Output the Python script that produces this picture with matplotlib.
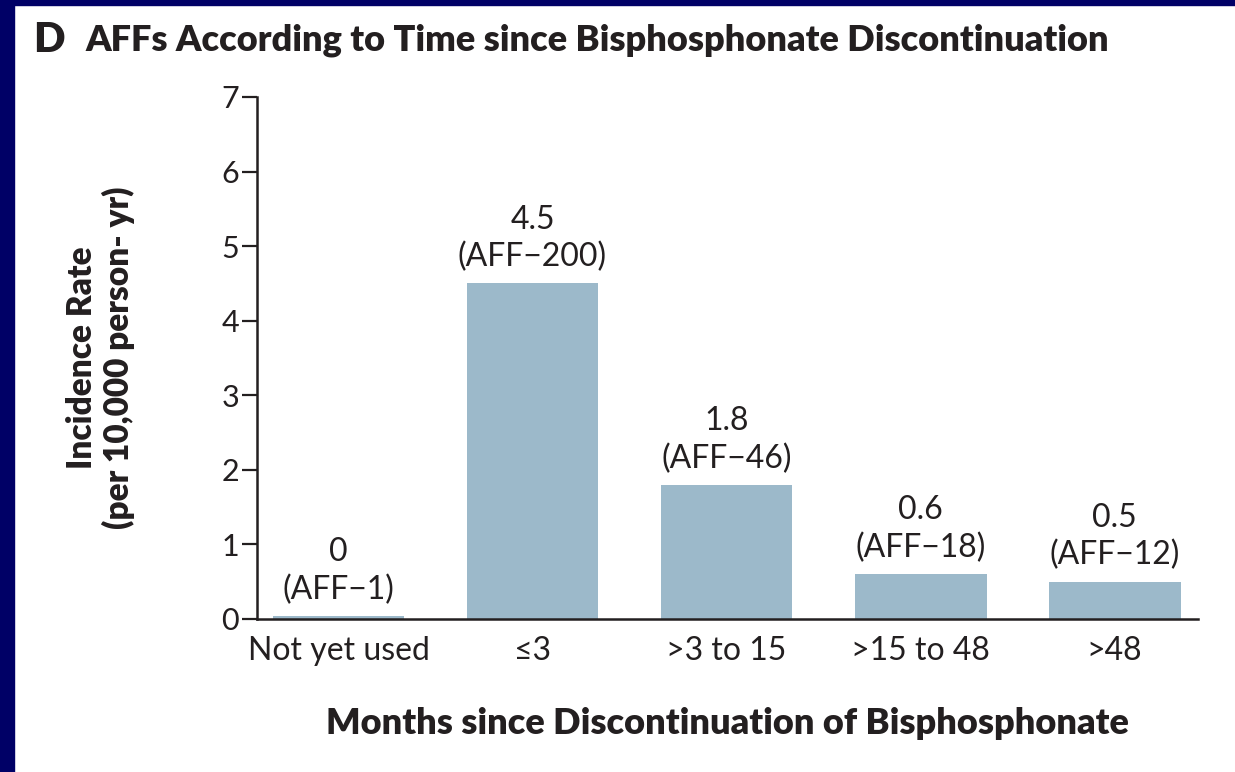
import matplotlib.pyplot as plt
from matplotlib.patches import Rectangle

plt.rcParams["font.family"] = ["Lato", "DejaVu Sans"]

categories = ["Not yet used", "\u22643", ">3 to 15", ">15 to 48", ">48"]
rates = [0.04, 4.5, 1.8, 0.6, 0.5]
aff_counts = [1, 200, 46, 18, 12]
y_ticks = [0, 1, 2, 3, 4, 5, 6, 7]

TEXT = "#231f20"
BAR = "#9cb9ca"
NAVY = "#000066"

fig = plt.figure(figsize=(12.35, 7.72), dpi=100)
W, H = 1235, 772
ax = fig.add_axes([257 / W, 1 - 619 / H, (1198 - 257) / W, (619 - 97) / H])

x = list(range(len(categories)))
ax.bar(x, rates, width=0.68, color=BAR, zorder=2)

for xi, r, n in zip(x, rates, aff_counts):
    val = f"{r:.1f}" if r >= 0.1 else f"{r:.0f}"
    ax.annotate(f"{val}\n(AFF\u2212{n})", (xi, r), xytext=(0, 8),
                textcoords="offset points", ha="center", va="bottom",
                fontsize=23, color=TEXT, linespacing=1.3)

ax.set_xlim(-0.42, 4.43)
ax.set_ylim(0, 7)
ax.set_yticks(y_ticks)
ax.set_xticks(x)
ax.set_xticklabels(categories)
ax.tick_params(axis="y", length=11, width=1.6, color=TEXT, labelsize=22,
               labelcolor=TEXT, pad=2)
ax.tick_params(axis="x", length=0, labelsize=23, labelcolor=TEXT, pad=12)
for side in ["top", "right"]:
    ax.spines[side].set_visible(False)
for side in ["left", "bottom"]:
    ax.spines[side].set_linewidth(1.8)
    ax.spines[side].set_color(TEXT)

ax.set_xlabel("Months since Discontinuation of Bisphosphonate", fontsize=26,
              fontweight="heavy", color=TEXT, labelpad=30)
ax.set_ylabel("Incidence Rate\n(per 10,000 person- yr)", fontsize=24,
              fontweight="heavy", color=TEXT, labelpad=62, linespacing=1.15)

fig.text(33 / W, 1 - 40 / H, "D", fontsize=30, fontweight="heavy", color=TEXT,
         va="center", ha="left")
fig.text(85 / W, 1 - 40 / H, "AFFs According to Time since Bisphosphonate Discontinuation",
         fontsize=26, fontweight="heavy", color=TEXT, va="center", ha="left")

# navy frame strips on the left and top edges
fig.patches.append(Rectangle((0, 0), 14 / W, 1, transform=fig.transFigure,
                             color=NAVY, zorder=10))
fig.patches.append(Rectangle((0, 1 - 5 / H), 1, 5 / H, transform=fig.transFigure,
                             color=NAVY, zorder=10))

fig.savefig("out.png", dpi=100)
